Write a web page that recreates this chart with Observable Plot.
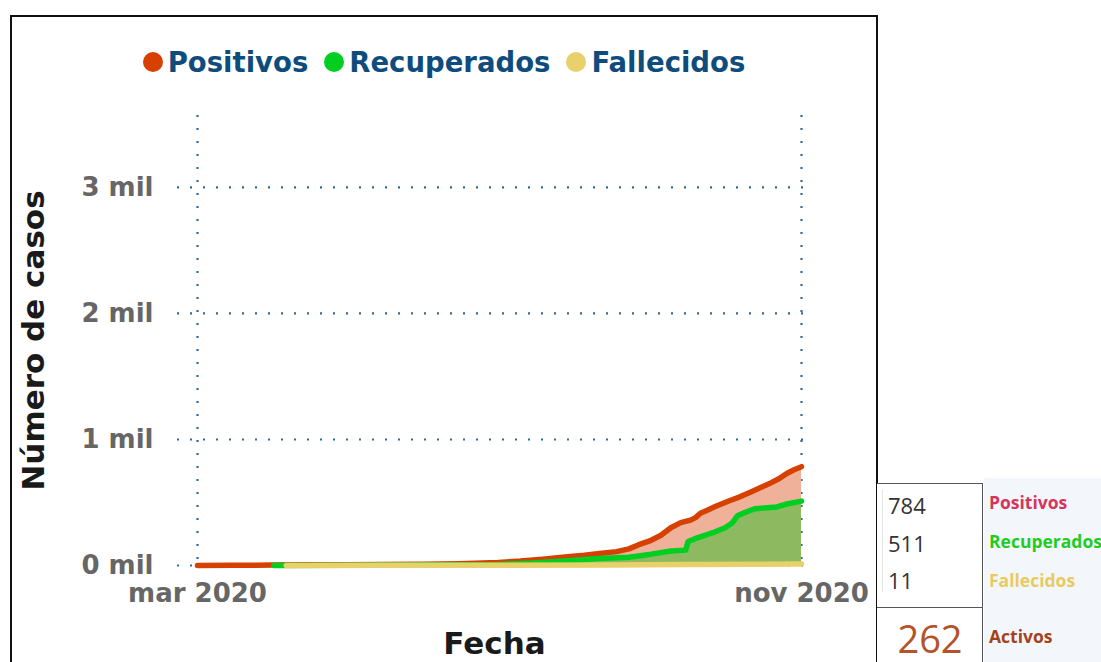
<!DOCTYPE html>
<html>
<head>
<meta charset="utf-8">
<script src="https://cdn.jsdelivr.net/npm/d3@7"></script>
<script src="https://cdn.jsdelivr.net/npm/@observablehq/plot@0.6"></script>
<style>
  html, body { margin: 0; padding: 0; background: #fff; overflow: hidden; width: 1101px; height: 662px; }
  #box { position: absolute; left: 10px; top: 15px; width: 864px; height: 700px; border: 2px solid #111; box-sizing: content-box; }
  #legend { position: absolute; left: 10px; top: 44px; width: 868px; height: 36px; display: flex; justify-content: center; align-items: center;
            font-family: "DejaVu Sans", sans-serif; font-weight: bold; font-size: 27.5px; color: #0e4c7d; }
  #legend .item { display: flex; align-items: center; margin: 0 8px; }
  #legend .dot { width: 20px; height: 20px; border-radius: 50%; margin-right: 5px; }
  #chart { position: absolute; left: 0; top: 90px; }
  #chart svg { font-family: "DejaVu Sans", sans-serif; overflow: visible; }
  #chart svg [aria-label$="tick label"] { fill: #666; font-size: 26px; font-weight: bold; }
  #chart svg [aria-label$="-axis label"] { fill: #1a1a1a; font-weight: bold; }
  #chart svg [aria-label="y-axis label"] { font-size: 31px; }
  #chart svg [aria-label="x-axis label"] { font-size: 31px; }
  #panelbg { position: absolute; left: 984px; top: 478px; width: 117px; height: 184px; background: #f3f7fc; }
  #numbox { position: absolute; left: 877px; top: 483px; width: 105px; height: 123px; border-top: 1.5px solid #555; border-right: 1.5px solid #555; border-bottom: 1.5px solid #555; background: #fff; }
  #actbox { position: absolute; left: 877px; top: 608px; width: 105px; height: 60px; border-right: 1.5px solid #555; background: #fff; }
  #faint { position: absolute; left: 882px; top: 490px; width: 1px; height: 102px; background: #e4e4e4; }
  .num { position: absolute; left: 888px; font-family: "Open Sans", sans-serif; font-size: 22px; color: #333; line-height: 1; }
  .lab { position: absolute; left: 989px; font-family: "Open Sans", sans-serif; font-weight: bold; font-size: 17.5px; line-height: 1; white-space: nowrap; }
  #activos { position: absolute; left: 877px; width: 106px; top: 619px; text-align: center; font-family: "Open Sans", sans-serif; font-size: 38px; color: #b4532a; line-height: 1; }
</style>
</head>
<body>
<div id="box"></div>
<div id="legend"></div>
<div id="chart"></div>
<div id="panelbg"></div>
<div id="numbox"></div>
<div id="actbox"></div>
<div id="faint"></div>
<div id="panel"></div>
<script>
// ---- data ----
const seriesNames = ["Positivos", "Recuperados", "Fallecidos"];
const seriesColors = ["#d64000", "#00cf22", "#e8d06a"];
const areaColors = ["#efb19a", "#8dba60", "#ead37a"];

const posDates = ["2020-03-01","2020-03-15","2020-04-01","2020-04-15","2020-05-01","2020-05-15","2020-06-01","2020-06-15","2020-07-01","2020-07-10","2020-07-19","2020-07-29","2020-08-05","2020-08-11","2020-08-18","2020-08-23","2020-08-27","2020-09-01","2020-09-05","2020-09-09","2020-09-13","2020-09-17","2020-09-19","2020-09-21","2020-09-24","2020-09-27","2020-10-01","2020-10-03","2020-10-07","2020-10-11","2020-10-15","2020-10-19","2020-10-23","2020-10-26","2020-10-29","2020-11-01"];
const posValues = [0,1,3,5,6,8,10,14,24,35,50,70,82,95,110,132,165,200,240,300,340,360,380,415,440,468,500,516,545,580,615,650,690,730,760,784];

const recDates = ["2020-04-01","2020-05-01","2020-06-01","2020-07-01","2020-07-15","2020-07-29","2020-08-11","2020-08-23","2020-09-01","2020-09-09","2020-09-15","2020-09-16","2020-09-19","2020-09-21","2020-09-26","2020-10-01","2020-10-04","2020-10-06","2020-10-09","2020-10-13","2020-10-18","2020-10-22","2020-10-26","2020-11-01"];
const recValues = [0,2,5,8,20,38,55,66,90,115,122,190,215,228,260,300,340,395,420,450,458,465,488,511];

const falDates = ["2020-04-06","2020-05-15","2020-07-01","2020-08-15","2020-09-15","2020-10-15","2020-11-01"];
const falValues = [0,1,2,4,7,10,11];

const xTickDates = ["2020-03-01","2020-11-01"];
const xTickLabels = ["mar 2020","nov 2020"];
const yTicks = [0, 1000, 2000, 3000];

const totals = [784, 511, 11];
const activos = 262;
const panelLabels = ["Positivos", "Recuperados", "Fallecidos", "Activos"];
const panelColors = ["#d8345a", "#1fcc1f", "#e8cb5e", "#a3431b"];

// ---- build ----
const toRows = (dates, values) => dates.map((d, i) => ({date: new Date(d), value: values[i]}));
const series = [toRows(posDates, posValues), toRows(recDates, recValues), toRows(falDates, falValues)];
const tickDates = xTickDates.map(d => new Date(d));

const gridColor = "#2e6a9a";

const chart = Plot.plot({
  width: 878,
  height: 572,
  marginLeft: 177,
  marginRight: 67,
  marginTop: 25,
  marginBottom: 97,
  x: {type: "utc", domain: [tickDates[0], tickDates[1]], range: [197, 801]},
  y: {domain: [0, 3571]},
  marks: [
    Plot.gridY(yTicks, {stroke: gridColor, strokeOpacity: 1, strokeWidth: 2.2, strokeDasharray: "2,11"}),
    Plot.gridX(tickDates, {stroke: gridColor, strokeOpacity: 1, strokeWidth: 2.2, strokeDasharray: "2,11"}),
    ...series.map((s, i) => Plot.areaY(s, {x: "date", y: "value", fill: areaColors[i]})),
    ...series.map((s, i) => Plot.lineY(s, {x: "date", y: "value", stroke: seriesColors[i], strokeWidth: 5.5, strokeLinecap: "round", strokeLinejoin: "round"})),
    Plot.axisY(yTicks, {tickSize: 0, tickPadding: 24, tickFormat: d => `${d / 1000} mil`, label: "Número de casos", labelAnchor: "center", labelArrow: "none", labelOffset: 156}),
    Plot.axisX(tickDates, {tickSize: 0, tickPadding: 18, tickFormat: (d, i) => xTickLabels[i], label: "Fecha", labelAnchor: "center", labelArrow: "none", labelOffset: 88})
  ]
});
document.getElementById("chart").appendChild(chart);

// legend
const legend = document.getElementById("legend");
seriesNames.forEach((name, i) => {
  const item = document.createElement("div");
  item.className = "item";
  const dot = document.createElement("div");
  dot.className = "dot";
  dot.style.background = seriesColors[i];
  const t = document.createElement("span");
  t.textContent = name;
  item.appendChild(dot);
  item.appendChild(t);
  legend.appendChild(item);
});

// right panel
const panel = document.getElementById("panel");
const rowY = [505, 543, 580];
totals.forEach((v, i) => {
  const el = document.createElement("div");
  el.className = "num";
  el.textContent = v;
  el.style.top = (rowY[i] - 11) + "px";
  panel.appendChild(el);
});
const act = document.createElement("div");
act.id = "activos";
act.textContent = activos;
panel.appendChild(act);
const labY = [503, 542, 581, 637];
panelLabels.forEach((l, i) => {
  const el = document.createElement("div");
  el.className = "lab";
  el.textContent = l;
  el.style.color = panelColors[i];
  el.style.top = (labY[i] - 9) + "px";
  panel.appendChild(el);
});
</script>
</body>
</html>
